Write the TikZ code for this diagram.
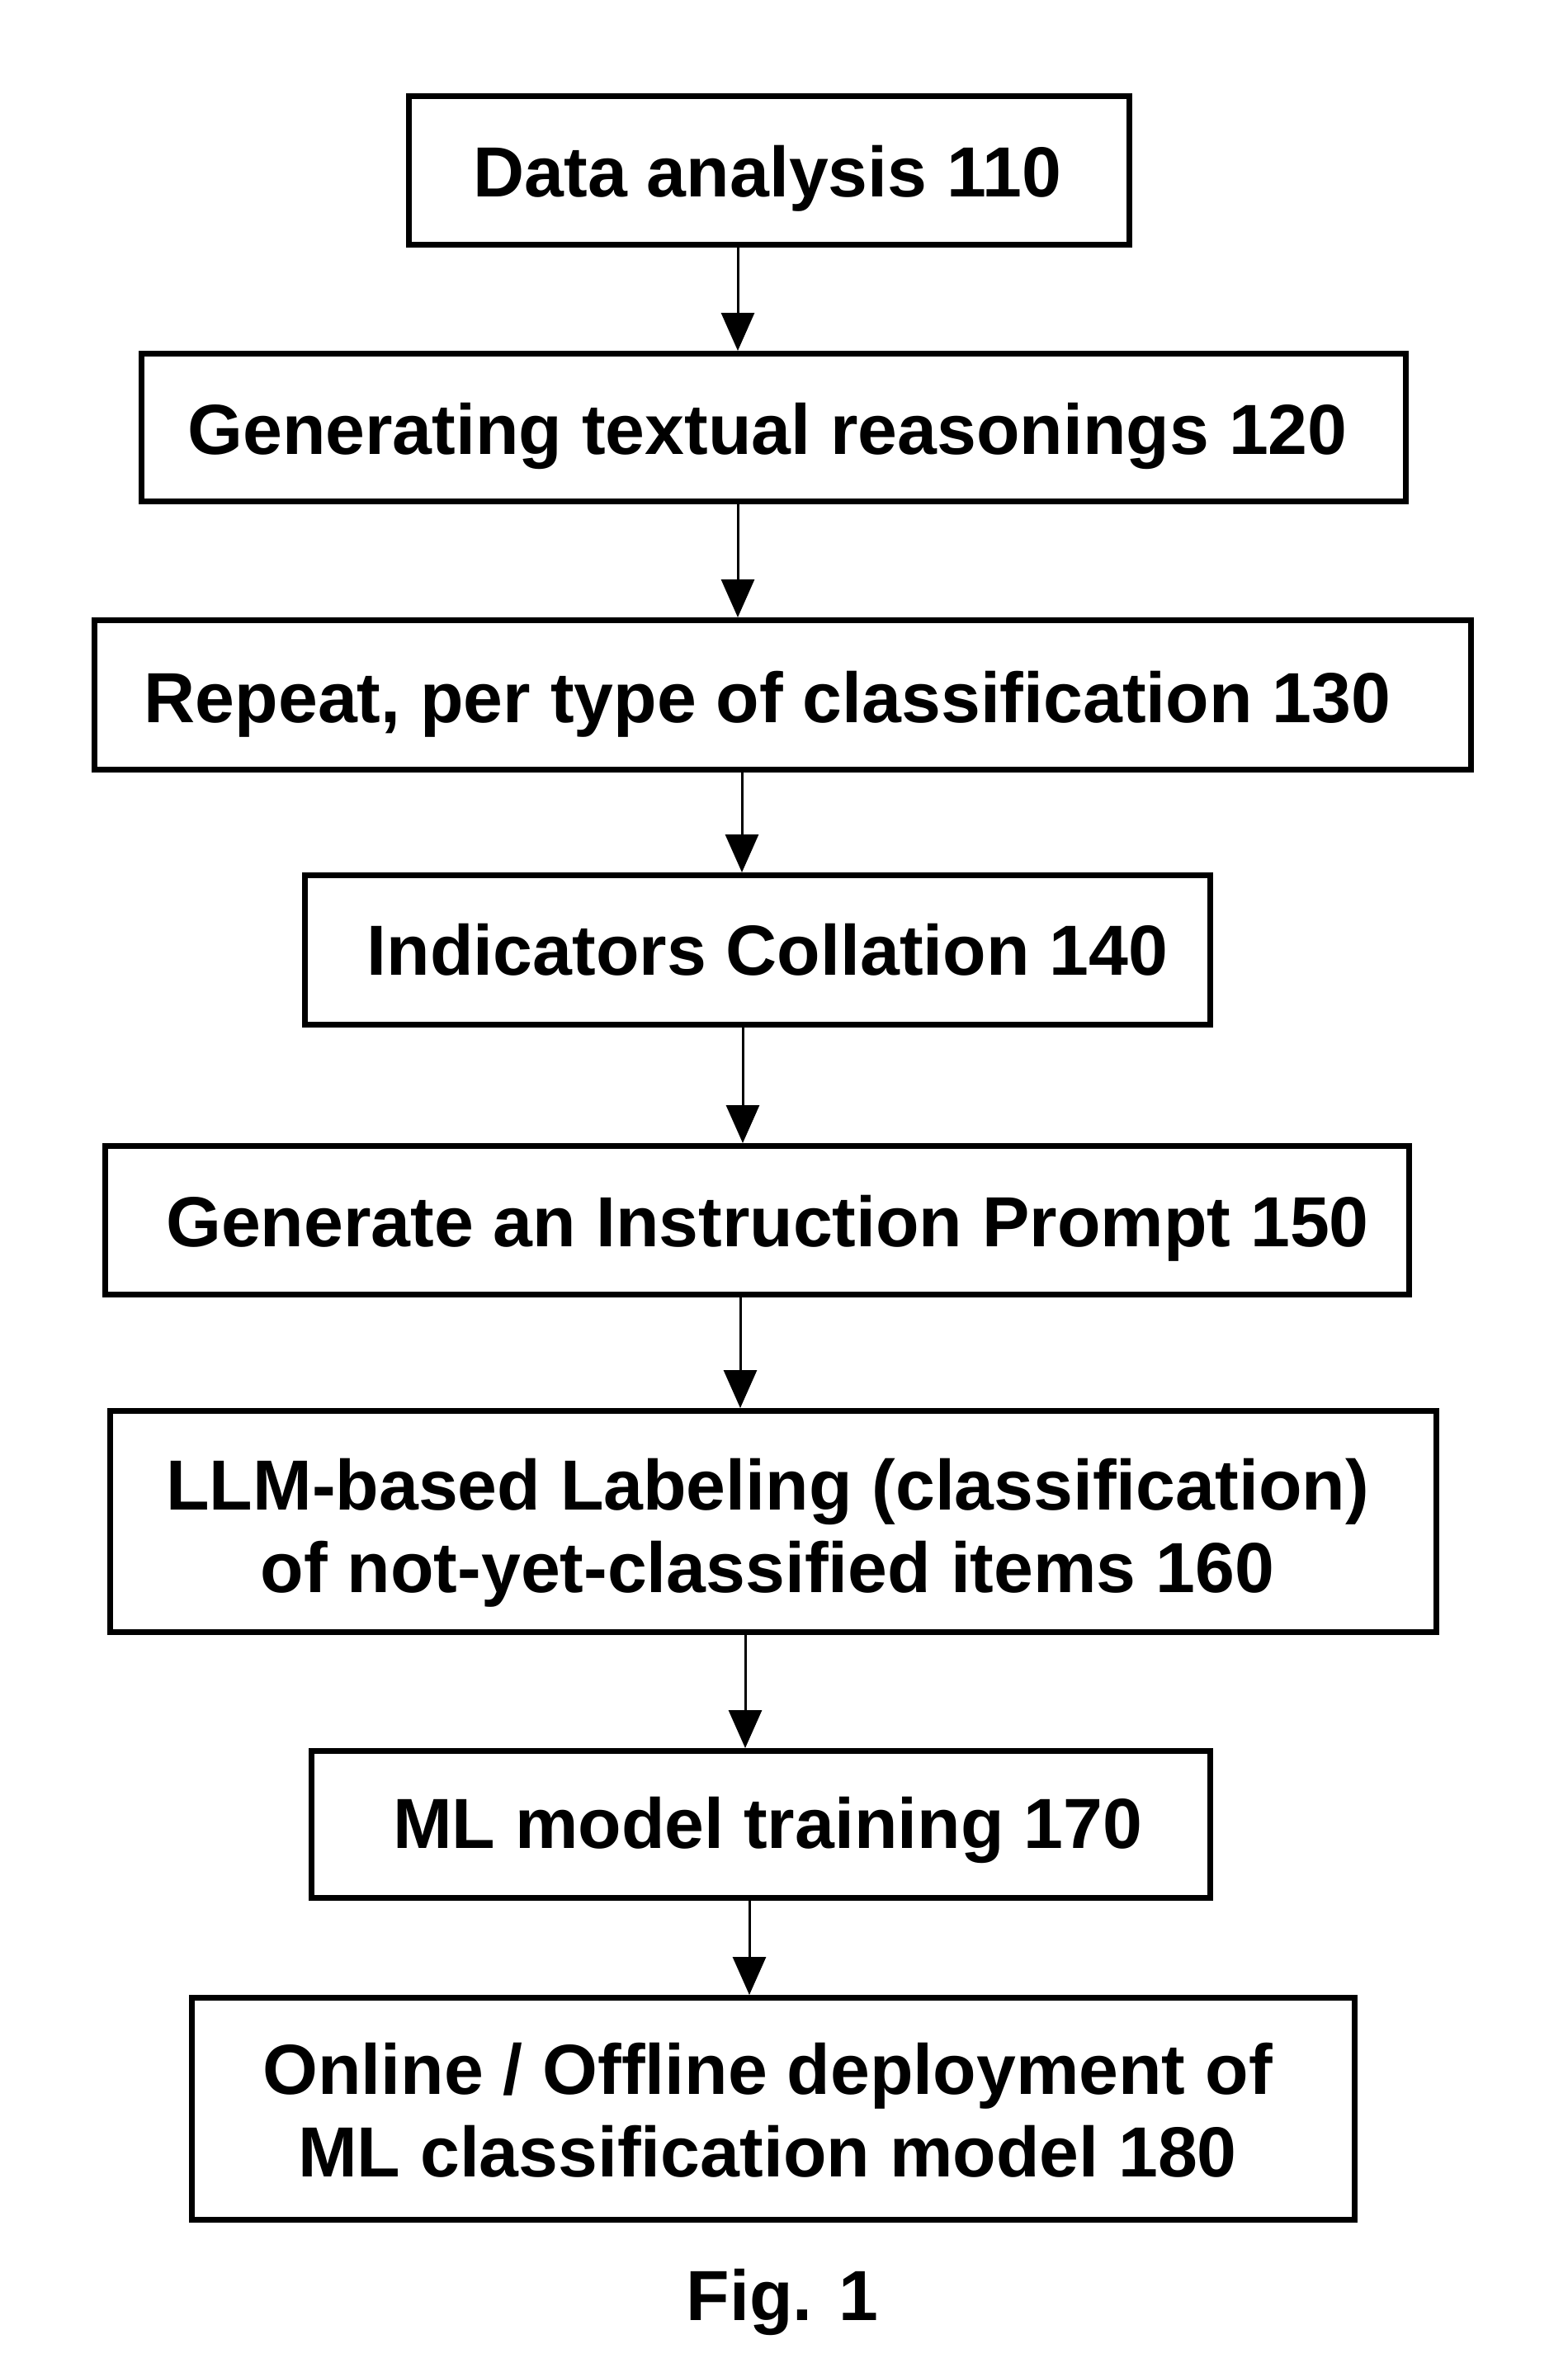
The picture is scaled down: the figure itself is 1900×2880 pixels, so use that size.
\documentclass[tikz,border=0pt]{standalone}
\usepackage{fontspec}
\setmainfont{Liberation Sans}
\usetikzlibrary{arrows.meta}
\tikzset{
  stepbox/.style={draw=black, line width=7pt, rectangle, inner sep=0pt},
  lbl/.style={font=\fontsize{86}{100}\selectfont\bfseries, anchor=base, align=center, inner sep=0pt},
  arr/.style={line width=3pt, -{Triangle[width=40pt,length=46pt]}},
}
\begin{document}
\begin{tikzpicture}[x=1pt,y=-1pt]
\useasboundingbox[fill=white] (0,0) rectangle (1900,2880);
% boxes
\node[stepbox, minimum width=873pt,  minimum height=180pt] (b1) at (932,206.5) {};
\node[stepbox, minimum width=1532pt, minimum height=179pt] (b2) at (937.5,518) {};
\node[stepbox, minimum width=1668pt, minimum height=181pt] (b3) at (948.5,842) {};
\node[stepbox, minimum width=1097pt, minimum height=181pt] (b4) at (918,1151) {};
\node[stepbox, minimum width=1580pt, minimum height=180pt] (b5) at (917.5,1478.5) {};
\node[stepbox, minimum width=1607pt, minimum height=268pt] (b6) at (937,1843.5) {};
\node[stepbox, minimum width=1089pt, minimum height=178pt] (b7) at (922,2210.5) {};
\node[stepbox, minimum width=1409pt, minimum height=269pt] (b8) at (937,2555) {};
% labels
\node[lbl] (t1) at (930,238) {Data analysis 110};
\node[lbl] (t2) at (930,550) {Generating textual reasonings 120};
\node[lbl] (t3) at (930,875) {Repeat, per type of classification 130};
\node[lbl] (t4) at (930,1181) {Indicators Collation 140};
\node[lbl] (t5) at (930,1510) {Generate an Instruction Prompt 150};
\node[lbl] (t6) at (930,1929) {LLM-based Labeling (classification)\\of not-yet-classified items 160};
\node[lbl] (t7) at (930,2239) {ML model training 170};
\node[lbl] (t8) at (930,2637) {Online / Offline deployment of\\ML classification model 180};
\node[lbl] (fig) at (948,2811) {Fig. 1};
% connectors
\draw[arr] (b1.south -| 894,0) -- (b2.north -| 894,0);
\draw[arr] (b2.south -| 894,0) -- (b3.north -| 894,0);
\draw[arr] (b3.south -| 899,0) -- (b4.north -| 899,0);
\draw[arr] (b4.south -| 900,0) -- (b5.north -| 900,0);
\draw[arr] (b5.south -| 897,0) -- (b6.north -| 897,0);
\draw[arr] (b6.south -| 903,0) -- (b7.north -| 903,0);
\draw[arr] (b7.south -| 908,0) -- (b8.north -| 908,0);
\end{tikzpicture}
\end{document}
